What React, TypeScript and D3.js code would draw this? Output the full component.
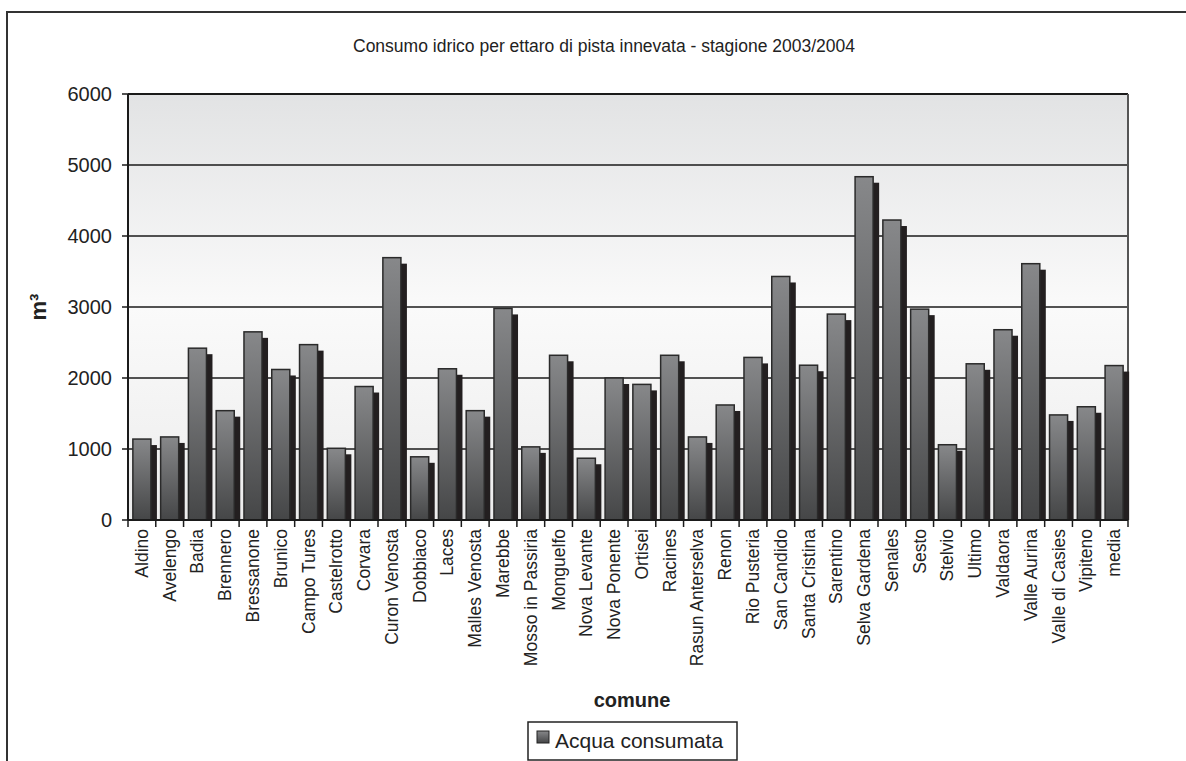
import React from 'react'
import * as d3 from 'd3'

const comuni = [
  'Aldino', 'Avelengo', 'Badia', 'Brennero', 'Bressanone', 'Brunico', 'Campo Tures',
  'Castelrotto', 'Corvara', 'Curon Venosta', 'Dobbiaco', 'Laces', 'Malles Venosta',
  'Marebbe', 'Mosso in Passiria', 'Monguelfo', 'Nova Levante', 'Nova Ponente', 'Ortisei',
  'Racines', 'Rasun Anterselva', 'Renon', 'Rio Pusteria', 'San Candido', 'Santa Cristina',
  'Sarentino', 'Selva Gardena', 'Senales', 'Sesto', 'Stelvio', 'Ultimo', 'Valdaora',
  'Valle Aurina', 'Valle di Casies', 'Vipiteno', 'media',
]

const acqua = [
  1140, 1170, 2420, 1540, 2650, 2120, 2470,
  1010, 1880, 3695, 890, 2130, 1540,
  2980, 1030, 2320, 870, 2000, 1910,
  2320, 1170, 1620, 2290, 3430, 2180,
  2900, 4835, 4225, 2970, 1060, 2200, 2680,
  3610, 1480, 1595, 2175,
]

const yTicks = [0, 1000, 2000, 3000, 4000, 5000, 6000]

const W = 1186
const H = 761
const plot = { left: 128, right: 1128, top: 94, bottom: 520 }
const font = 'Arial, "Liberation Sans", sans-serif'

export default function App() {
  const x = d3.scaleBand<string>()
    .domain(comuni)
    .range([plot.left, plot.right])
    .paddingInner(0.35)
    .paddingOuter(0.175)
  const y = d3.scaleLinear().domain([0, 6000]).range([plot.bottom, plot.top])
  const step = x.step()
  const bw = x.bandwidth()
  const sh = 6

  const bounds = d3.range(comuni.length + 1).map(i => plot.left + i * step)

  return (
    <svg width={W} height={H} style={{ position: 'absolute', left: 0, top: 0, background: '#fff' }}
      fontFamily={font}>
      <defs>
        <linearGradient id="bg" x1="0" y1="0" x2="0" y2="1">
          <stop offset="0" stopColor="#e2e3e4" />
          <stop offset="0.5" stopColor="#fafafa" />
          <stop offset="1" stopColor="#ececec" />
        </linearGradient>
        <linearGradient id="bar" gradientUnits="objectBoundingBox" x1="0" y1="0" x2="0" y2="1">
          <stop offset="0" stopColor="#87888a" />
          <stop offset="1" stopColor="#454647" />
        </linearGradient>
      </defs>

      <rect x={7} y={12} width={1220} height={800} fill="#fff" stroke="#333" strokeWidth={2} />

      <text x={604} y={52} textAnchor="middle" fontSize={17.5} fill="#222">
        Consumo idrico per ettaro di pista innevata - stagione 2003/2004
      </text>

      <rect x={plot.left} y={plot.top} width={plot.right - plot.left} height={plot.bottom - plot.top}
        fill="url(#bg)" />

      {yTicks.filter(t => t > 0).map(t => (
        <line key={t} x1={plot.left} x2={plot.right} y1={y(t)} y2={y(t)}
          stroke="#1a1a1a" strokeWidth={t === 6000 ? 2 : 1.5} />
      ))}
      <line x1={plot.right} x2={plot.right} y1={plot.top} y2={plot.bottom} stroke="#555" strokeWidth={2} />

      {comuni.map((c, i) => {
        const bx = x(c)!
        const by = y(acqua[i])
        const h = plot.bottom - by
        return (
          <g key={c}>
            <rect x={bx + sh} y={by + sh} width={bw} height={Math.max(0, h - sh)} fill="#231f20" />
            <rect x={bx} y={by} width={bw} height={h} fill="url(#bar)" stroke="#2a2a2a" strokeWidth={1.5} />
          </g>
        )
      })}

      {/* axes */}
      <line x1={plot.left} x2={plot.left} y1={plot.top} y2={plot.bottom} stroke="#1a1a1a" strokeWidth={2} />
      <line x1={plot.left} x2={plot.right} y1={plot.bottom} y2={plot.bottom} stroke="#1a1a1a" strokeWidth={2} />
      {yTicks.map(t => (
        <g key={t}>
          <line x1={plot.left - 6} x2={plot.left} y1={y(t)} y2={y(t)} stroke="#1a1a1a" strokeWidth={1.5} />
          <text x={112} y={y(t)} dy="0.35em" textAnchor="end" fontSize={20} fill="#222">{t}</text>
        </g>
      ))}
      {bounds.map((b, i) => (
        <line key={i} x1={b} x2={b} y1={plot.bottom} y2={plot.bottom + 7} stroke="#1a1a1a" strokeWidth={1.5} />
      ))}
      {comuni.map(c => (
        <text key={c} transform={`translate(${x(c)! + bw / 2 + 6},${plot.bottom + 9}) rotate(-90)`}
          textAnchor="end" fontSize={17.5} fill="#222">{c}</text>
      ))}

      <text transform="translate(46,307) rotate(-90)" textAnchor="middle" fontSize={22} fontWeight="bold" fill="#222">
        m³
      </text>
      <text x={632} y={707} textAnchor="middle" fontSize={20} fontWeight="bold" fill="#222">comune</text>

      <rect x={528} y={722} width={209} height={38} fill="#fff" stroke="#222" strokeWidth={1.5} />
      <rect x={537} y={731} width={12} height={12} fill="url(#bar)" stroke="#222" strokeWidth={1} />
      <text x={555} y={748} fontSize={21} fill="#222">Acqua consumata</text>
    </svg>
  )
}
